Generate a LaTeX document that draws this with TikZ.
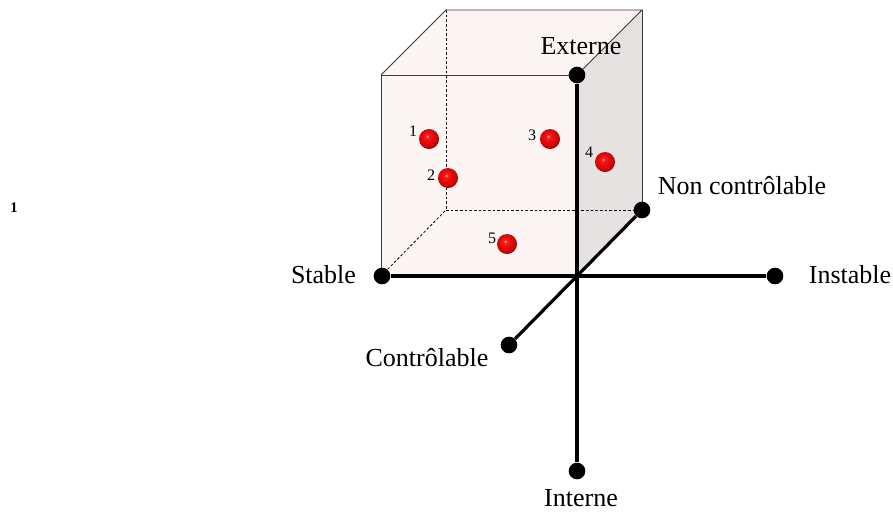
\documentclass[tikz,border=0pt]{standalone}
\usepackage{fontspec}
\setmainfont{Liberation Serif}
\definecolor{facepink}{HTML}{FCF5F4}
\definecolor{facegrey}{HTML}{E7E2E2}
\definecolor{edgegrey}{HTML}{3A3A3A}
\definecolor{rougebille}{HTML}{F00A0A}
\pgfdeclareradialshading{bille}{\pgfpoint{-5bp}{7bp}}{%
  color(0bp)=(white!70!rougebille); color(4bp)=(rougebille!90!white);
  color(12bp)=(rougebille); color(22bp)=(rougebille!85!black);
  color(27bp)=(rougebille!55!black); color(50bp)=(rougebille!55!black)}
\tikzset{
  dot/.style={circle,fill=black,inner sep=0pt,minimum size=12.5pt},
  bille/.style={circle,shading=bille,inner sep=0pt,minimum size=15pt},
  num/.style={inner sep=0pt,font=\fontsize{12}{12}\selectfont},
  axe/.style={line width=2.4pt},
  arete/.style={draw=edgegrey,line width=0.7pt},
  cache/.style={dashed,dash pattern=on 2pt off 1.5pt,line width=0.6pt},
}
\begin{document}
\begin{tikzpicture}[x=0.75pt,y=-0.75pt,font=\fontsize{19.5}{20}\selectfont]
  \useasboundingbox (0,0) rectangle (893,511);
  % sommets du cube
  \coordinate (A) at (381,75);
  \coordinate (B) at (577,75);
  \coordinate (C) at (577,276);
  \coordinate (D) at (381,276);
  \coordinate (E) at (446,10);
  \coordinate (F) at (642,10);
  \coordinate (G) at (642,210);
  \coordinate (H) at (446,210);

  % faces
  \fill[facepink] (A) -- (E) -- (F) -- (B) -- cycle;
  \fill[facepink] (A) -- (B) -- (C) -- (D) -- cycle;
  \fill[facegrey] (B) -- (F) -- (G) -- (C) -- cycle;

  % aretes cachees
  \draw[cache] (E) -- (H);
  \draw[cache] (H) -- (G);
  \draw[cache] (D) -- (H);

  % aretes visibles
  \draw[arete] (D) -- (A) -- (B);
  \draw[arete] (A) -- (E) -- (F) -- (B);
  \draw[arete] (F) -- (G);

  % extremites des axes
  \node[dot] (stable) at (382,276) {};
  \node[dot] (instable) at (775,276) {};
  \node[dot] (externe) at (577,75) {};
  \node[dot] (interne) at (577,471) {};
  \node[dot] (nonctrl) at (642,210) {};
  \node[dot] (ctrl) at (509,345) {};

  % axes
  \draw[axe] (stable) -- (instable);
  \draw[axe] (externe) -- (interne);
  \draw[axe] (ctrl) -- (nonctrl);

  % billes
  \node[bille] (b1) at (429,139) {};
  \node[bille] (b2) at (448,178) {};
  \node[bille] (b3) at (550,139) {};
  \node[bille] (b4) at (605,162) {};
  \node[bille] (b5) at (507,244) {};
  \node[num] at (413,131) {1};
  \node[num] at (431,175) {2};
  \node[num] at (532,135) {3};
  \node[num] at (589,152) {4};
  \node[num] at (492,238) {5};

  % textes
  \node[inner sep=0pt] at (581,46) {Externe};
  \node[inner sep=0pt] at (742,186) {Non contrôlable};
  \node[inner sep=0pt] at (850,275) {Instable};
  \node[inner sep=0pt] at (323.5,275) {Stable};
  \node[inner sep=0pt] at (427,358) {Contrôlable};
  \node[inner sep=0pt] at (581,498) {Interne};
  \node[inner sep=0pt,font=\fontsize{11}{11}\selectfont\bfseries] at (14,208) {1};
\end{tikzpicture}
\end{document}
